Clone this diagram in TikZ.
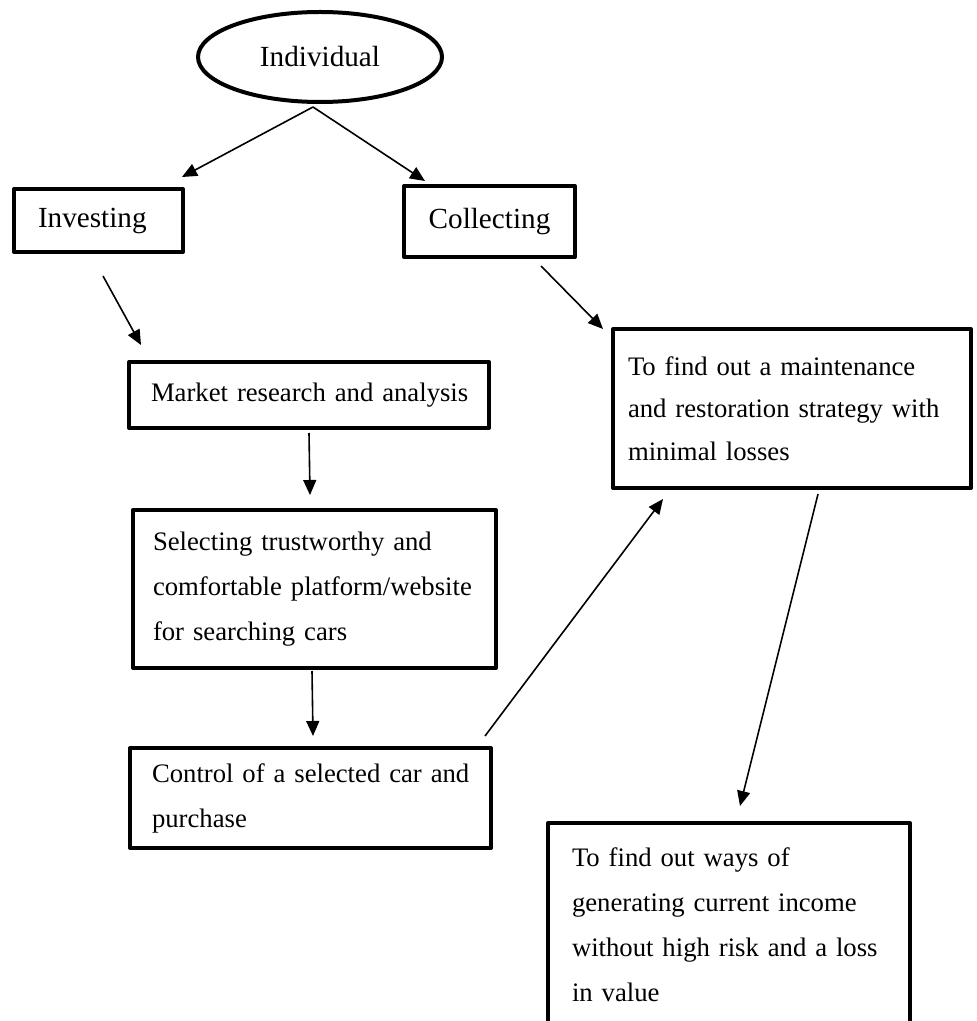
\documentclass[tikz,border=0pt]{standalone}
\usepackage{fontspec}
\setmainfont{Liberation Serif}
\usetikzlibrary{arrows.meta,shapes.geometric}
\newcommand{\bigtext}{\fontsize{14.6}{17}\selectfont}
\newcommand{\boxtext}{\fontsize{13.35}{22.5}\selectfont}
\tikzset{
	ovalnode/.style={ellipse, draw, line width=2pt, inner sep=0pt, font=\bigtext},
	boxnode/.style={rectangle, draw, line width=2pt, line join=round, inner sep=0pt, align=left, font=\boxtext},
	linkarrow/.style={-{Triangle[length=7.5pt,width=6.5pt]}, line width=0.8pt}
}

\begin{document}
\begin{tikzpicture}[x=0.5pt,y=-0.5pt]
		%%%%% START %%%%%
		\clip (0,0) rectangle (976,1021);
		
		\node[ovalnode, minimum width=122pt, minimum height=45pt] (indiv) at (320,57) {Individual};
		
		\node[boxnode, font=\bigtext, minimum width=84.5pt, minimum height=31.5pt, text width=60.5pt] (invest) at (98.5,220.5) {Investing};
		\node[boxnode, font=\bigtext, align=center, minimum width=85.5pt, minimum height=35.5pt] (collect) at (489.5,221.5) {Collecting};
		
		\node[boxnode, minimum width=180pt, minimum height=33pt, text width=158pt] (market) at (309,395) {\mbox{Market research and analysis}};
		\node[boxnode, minimum width=181.5pt, minimum height=79pt, text width=161.5pt] (select) at (314.5,589) {\mbox{Selecting trustworthy and}\\\mbox{comfortable platform/website}\\for searching cars};
		\node[boxnode, minimum width=180.5pt, minimum height=50pt, text width=158.5pt] (control) at (310.5,798) {\mbox{Control of a selected car and}\\purchase};
		
		\node[boxnode, font=\fontsize{13.35}{21.25}\selectfont, minimum width=179pt, minimum height=79.5pt, text width=164pt] (restore) at (792,408.5) {\mbox{To find out a maintenance}\\\mbox{and restoration strategy with}\\minimal losses};
		\node[boxnode, minimum width=181pt, minimum height=102pt, text width=157pt] (income) at (729,925) {To find out ways of\\\mbox{generating current income}\\\mbox{without high risk and a loss}\\in value};
		
		\coordinate (apex) at ([shift={(-7,3)}]indiv.south);
		\draw[linkarrow] (apex) -- ([shift={(-3,-10)}]invest.north east);
		\draw[linkarrow] (apex) -- ([shift={(23,-3)}]collect.north west);
		
		\draw[linkarrow] ([shift={(91,22)}]invest.south west) -- ([shift={(14,-15)}]market.north west);
		\draw[linkarrow] ([shift={(0,3)}]market.south) -- ([shift={(-4.5,-13)}]select.north);
		\draw[linkarrow] ([shift={(-2.5,1)}]select.south) -- ([shift={(2.5,-10)}]control.north);
		
		\draw[linkarrow] ([shift={(-36,7)}]collect.south east) -- ([shift={(-8,2)}]restore.north west);
		\draw[linkarrow] ([shift={(-8,-10)}]control.north east) -- ([shift={(52,9)}]restore.south west);
		\draw[linkarrow] ([shift={(26,4)}]restore.south) -- ([shift={(11,-15)}]income.north);
		%%%%% END %%%%%
\end{tikzpicture}
\end{document}
